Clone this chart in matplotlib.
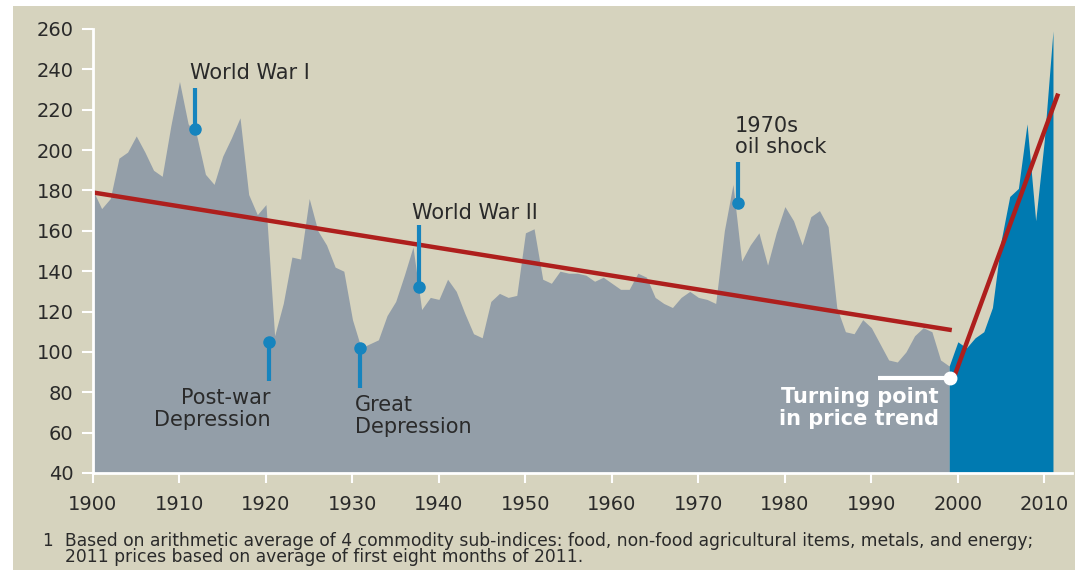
import matplotlib.pyplot as plt
from matplotlib.patches import Rectangle

# commodity price index, 1900-2011
years = list(range(1900, 2012))
index = [180, 171, 176, 196, 199, 207, 199, 190, 187, 212,
         234, 213, 207, 188, 183, 197, 206, 216, 178, 168,
         173, 108, 124, 147, 146, 176, 160, 153, 142, 140,
         116, 102, 104, 106, 118, 125, 138, 152, 121, 127,
         126, 136, 130, 119, 109, 107, 125, 129, 127, 128,
         159, 161, 136, 134, 140, 139, 139, 138, 135, 137,
         134, 131, 131, 139, 137, 127, 124, 122, 127, 130,
         127, 126, 124, 160, 183, 145, 153, 159, 143, 159,
         172, 165, 153, 167, 170, 162, 122, 110, 109, 116,
         112, 104, 96, 95, 100, 108, 112, 110, 96, 93,
         105, 102, 107, 110, 122, 155, 177, 181, 213, 165,
         205, 259]
turn_year = 1999

# trend lines
trend1_x = [1900, 1999.3]
trend1_y = [179, 110.8]
trend2_x = [1999.6, 2011.6]
trend2_y = [88, 228]

yticks = [40, 60, 80, 100, 120, 140, 160, 180, 200, 220, 240, 260]
xticks = [1900, 1910, 1920, 1930, 1940, 1950, 1960, 1970, 1980, 1990, 2000, 2010]

# event markers: (x, top, dot)
events = {
    'World War I': (1911.8, 230.6, 210.3),
    'Post-war Depression': (1920.3, 85.5, 104.9),
    'Great Depression': (1930.9, 82, 101.9),
    'World War II': (1937.7, 162.8, 132),
    '1970s oil shock': (1974.6, 194, 174),
}

bg = '#D6D3BE'
grey = '#939EA8'
blue = '#007AB1'
red = '#AE1F1D'
mark = '#1684BE'
txt = '#2A2A2A'

fig = plt.figure(figsize=(10.75, 5.7), dpi=100)
fig.patch.set_facecolor('white')
fig.patches.append(Rectangle((13/1075, 0), 1, 1 - 6/570, transform=fig.transFigure,
                             facecolor=bg, edgecolor='none', zorder=-10))

ax = fig.add_axes([93/1075, 1 - 473/570, (1072-93)/1075, (473-29)/570])
ax.set_facecolor(bg)

i0 = years.index(turn_year)
ax.fill_between(years[:i0+1], index[:i0+1], 0, color=grey, lw=0)
ax.fill_between(years[i0:], index[i0:], 0, color=blue, lw=0)

ax.plot(trend1_x, trend1_y, color=red, lw=3.2, solid_capstyle='butt')
ax.plot(trend2_x, trend2_y, color=red, lw=3.2, solid_capstyle='butt')

for name, (x, top, dot) in events.items():
    ax.plot([x, x], [top, dot], color=mark, lw=3, solid_capstyle='butt')
    ax.plot(x, dot, 'o', color=mark, ms=8)

fs = 15
ax.text(1911.2, 238, 'World War I', fontsize=fs, color=txt, va='center')
ax.text(1920.5, 77, 'Post-war', fontsize=fs, color=txt, va='center', ha='right')
ax.text(1920.5, 66.5, 'Depression', fontsize=fs, color=txt, va='center', ha='right')
ax.text(1930.3, 73.5, 'Great', fontsize=fs, color=txt, va='center')
ax.text(1930.3, 62.8, 'Depression', fontsize=fs, color=txt, va='center')
ax.text(1936.9, 168.7, 'World War II', fontsize=fs, color=txt, va='center')
ax.text(1974.2, 212, '1970s', fontsize=fs, color=txt, va='center')
ax.text(1974.2, 201.4, 'oil shock', fontsize=fs, color=txt, va='center')

# turning point
ax.plot([1990.75, 1999.1], [87, 87], color='white', lw=3, solid_capstyle='butt')
ax.plot(1999.1, 87, 'o', color='white', ms=9)
ax.text(1997.8, 77.6, 'Turning point', fontsize=fs, color='white', fontweight='bold',
        va='center', ha='right')
ax.text(1997.8, 67, 'in price trend', fontsize=fs, color='white', fontweight='bold',
        va='center', ha='right')

ax.set_xlim(1900, 2013.2)
ax.set_ylim(40, 260)
ax.set_xticks(xticks)
ax.set_yticks(yticks)
ax.tick_params(colors='white', width=1.5, labelcolor=txt, labelsize=14)
ax.tick_params(axis='y', length=8, pad=6)
ax.tick_params(axis='x', length=7, pad=9)
for s in ['top', 'right']:
    ax.spines[s].set_visible(False)
for s in ['left', 'bottom']:
    ax.spines[s].set_color('white')
    ax.spines[s].set_linewidth(2)

fig.text(42/1075, 1 - 541/570, '1', fontsize=12, color=txt, va='center')
fig.text(65/1075, 1 - 541/570,
         'Based on arithmetic average of 4 commodity sub-indices: food, non-food agricultural items, metals, and energy;',
         fontsize=12.3, color=txt, va='center')
fig.text(65/1075, 1 - 557/570, '2011 prices based on average of first eight months of 2011.',
         fontsize=12.3, color=txt, va='center')

fig.savefig('out.png', dpi=100, facecolor=fig.get_facecolor())
